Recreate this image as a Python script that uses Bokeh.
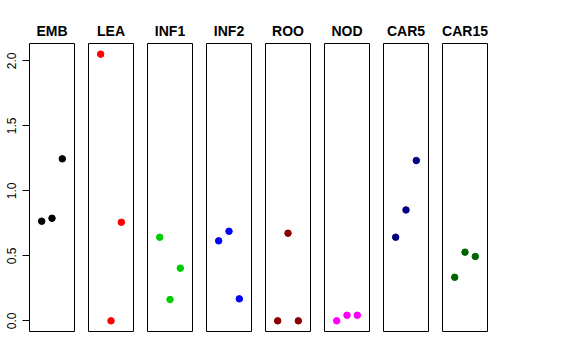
from bokeh.plotting import figure
from bokeh.layouts import row
from bokeh.models import Range1d, FixedTicker
from bokeh.embed import file_html
from bokeh.resources import INLINE

# ---- data ----
tissues = ["EMB", "LEA", "INF1", "INF2", "ROO", "NOD", "CAR5", "CAR15"]
colors = ["black", "red", "#00CD00", "blue", "#8B0000", "magenta", "#000080", "#006400"]
replicate = [1, 2, 3]
emb = [0.766, 0.789, 1.246]
lea = [2.051, 0.0, 0.758]
inf1 = [0.643, 0.164, 0.405]
inf2 = [0.615, 0.689, 0.169]
roo = [0.0, 0.674, 0.0]
nod = [0.0, 0.043, 0.043]
car5 = [0.643, 0.853, 1.233]
car15 = [0.335, 0.528, 0.495]
values = [emb, lea, inf1, inf2, roo, nod, car5, car15]
yticks = [0.0, 0.5, 1.0, 1.5, 2.0]
ytick_labels = ["0.0", "0.5", "1.0", "1.5", "2.0"]

FONT = "Liberation Sans"
FRAME_W, FRAME_H = 45, 288
TOP, BOTTOM, GAP_R, GAP_L = 43, 20, 7, 7
AXIS_W = 29

figs = []
for i, (name, col, vals) in enumerate(zip(tissues, colors, values)):
    first = i == 0
    left = AXIS_W if first else GAP_L
    p = figure(
        width=FRAME_W + left + GAP_R,
        height=FRAME_H + TOP + BOTTOM,
        x_range=Range1d(2 - 2.18, 2 + 2.18),
        y_range=Range1d(-0.082, 2.133),
        x_axis_location=None,
        y_axis_location="left" if first else None,
        output_backend="svg",
        toolbar_location=None,
        min_border_left=left,
        min_border_right=GAP_R,
        min_border_top=TOP,
        min_border_bottom=BOTTOM,
        title=name,
    )
    p.grid.visible = False
    p.outline_line_color = "black"
    p.outline_line_width = 1
    p.background_fill_color = "white"
    p.border_fill_color = "white"
    p.title.align = "center"
    p.title.text_font = FONT
    p.title.text_font_size = "14px"
    p.title.text_font_style = "bold"
    p.title.text_color = "black"
    if first:
        ax = p.yaxis[0]
        ax.ticker = FixedTicker(ticks=yticks)
        ax.major_label_overrides = {t: l for t, l in zip(yticks, ytick_labels)}
        ax.bounds = (0, 2)
        ax.major_tick_in = 0
        ax.major_tick_out = 7
        ax.minor_tick_line_color = None
        ax.axis_line_color = "black"
        ax.major_tick_line_color = "black"
        ax.major_label_orientation = "vertical"
        ax.major_label_standoff = 6
        ax.major_label_text_font = FONT
        ax.major_label_text_font_size = "12px"
        ax.major_label_text_color = "black"
    p.scatter(x=replicate, y=vals, marker="circle", size=6.5,
              fill_color=col, line_color=col)
    figs.append(p)

layout = row(figs, spacing=0)
open("out.html", "w").write(file_html(layout, INLINE))
